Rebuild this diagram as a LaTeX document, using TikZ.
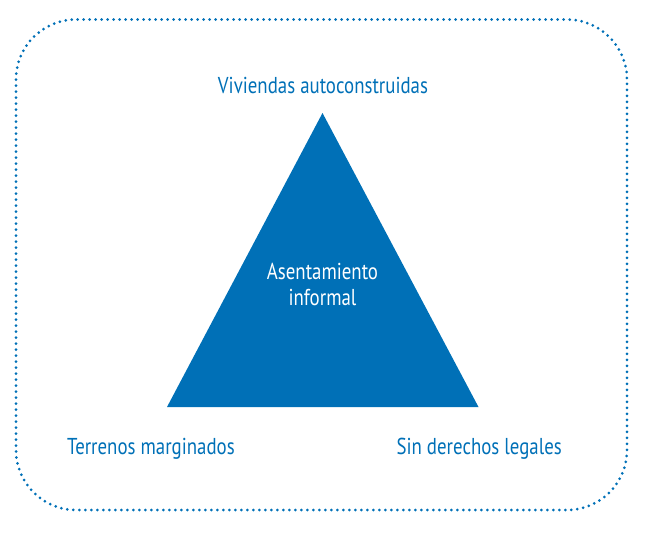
\documentclass[tikz,border=0pt]{standalone}
\usepackage{fontspec}
\setmainfont{PT Sans}[FakeStretch=0.82]
\definecolor{brandblue}{RGB}{0,112,183}
\tikzset{
  lbl/.style={text=brandblue, font=\fontsize{23}{26}\selectfont, inner sep=0pt},
  inlbl/.style={text=white, font=\fontsize{23}{26}\selectfont, inner sep=0pt, align=center},
  frame/.style={draw=brandblue, line width=3pt, line cap=round, dash pattern=on 0pt off 6pt, rounded corners=60pt},
}
\begin{document}
\begin{tikzpicture}[x=1pt,y=-1pt]
\useasboundingbox (0,0) rectangle (650,533);
\draw[frame] (16,19.5) rectangle (627,510);
\coordinate (apex) at (322.5,113);
\coordinate (bl) at (167,407);
\coordinate (br) at (478.5,407);
\fill[brandblue] (apex) -- (br) -- (bl) -- cycle;
\node[lbl, anchor=base] (top) at (323,93) {Viviendas autoconstruidas};
\node[lbl, anchor=base west] (left) at (67,454) {Terrenos marginados};
\node[lbl, anchor=base east] (right) at (562,454) {Sin derechos legales};
\node[inlbl, anchor=center] (mid) at (322.5,284) {Asentamiento\\informal};
\end{tikzpicture}
\end{document}
